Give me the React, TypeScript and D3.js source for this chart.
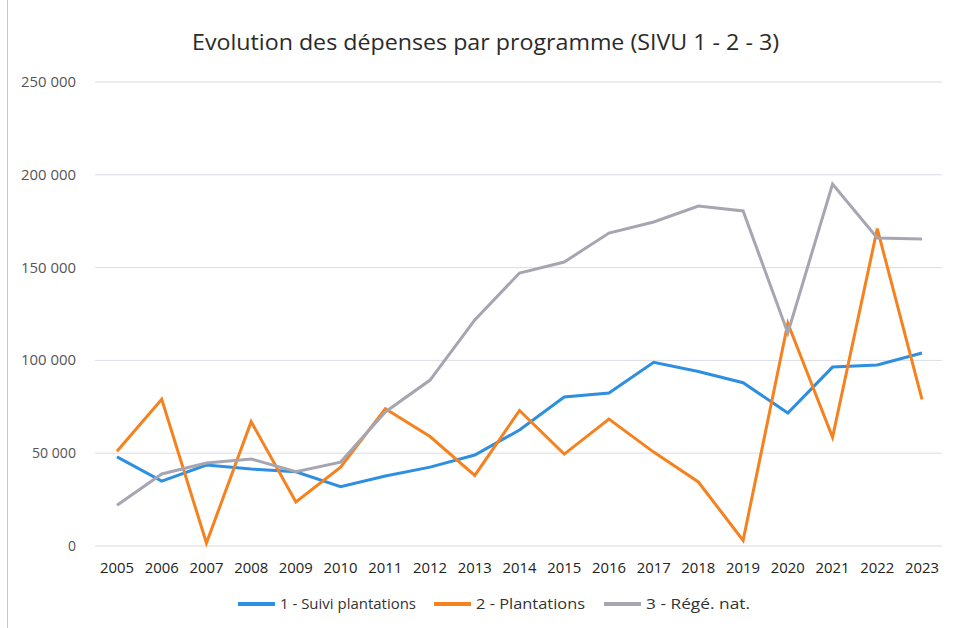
import React from "react";
import * as d3 from "d3";

const years = ["2005","2006","2007","2008","2009","2010","2011","2012","2013","2014","2015","2016","2017","2018","2019","2020","2021","2022","2023"];
const suiviPlantations = [48000,35000,43600,41500,40000,32000,37700,42500,49000,62500,80300,82400,99000,94000,88000,71600,96400,97500,104000];
const plantations = [51000,79000,1600,67000,23700,42500,74000,59000,38000,73000,49500,68400,50600,34500,3000,120000,58600,171000,79000];
const regeNat = [22000,38800,44700,46900,40000,45200,72200,89400,121800,147100,153000,168600,174600,183200,180500,114800,195000,166000,165400];
const yTicks = [0,50000,100000,150000,200000,250000];
const seriesNames = ["1 - Suivi plantations","2 - Plantations","3 - Régé. nat."];
const seriesColors = ["#2e8fe0","#f5821f","#a6a6b2"];

const W = 955, H = 628;
const font = "'Open Sans', sans-serif";

export default function App() {
  const x = d3.scalePoint<string>().domain(years).range([117, 922]);
  const y = d3.scaleLinear().domain([0, 250000]).range([546, 82]);
  const fmt = d3.formatLocale({ decimal: ",", thousands: " ", grouping: [3], currency: ["", "€"] }).format(",d");
  const line = d3.line<number>().x((_, i) => x(years[i]) as number).y(d => y(d));
  const data = [suiviPlantations, plantations, regeNat];
  const legendX = [238, 434, 604];
  const legendTextW = [136, 109, 104];

  return (
    <svg width={W} height={H} style={{ position: "absolute", left: 0, top: 0, background: "#fff" }}>
      <rect x={0} y={0} width={W} height={H} fill="#fff" />
      <line x1={7.5} x2={7.5} y1={0} y2={H} stroke="#c8c8c8" strokeWidth={1} />
      <text x={192} y={50} textLength={587} lengthAdjust="spacingAndGlyphs" fontFamily={font} fontSize={21} fill="#2a2a2a">
        Evolution des dépenses par programme (SIVU 1 - 2 - 3)
      </text>
      {yTicks.map(t => {
        const s = fmt(t);
        const tl = s.length >= 7 ? 55 : s.length === 6 ? 44 : undefined;
        return (
          <g key={t}>
            <line x1={95} x2={942} y1={y(t)} y2={y(t)} stroke="#dcdce4" strokeWidth={1} />
            <text x={76} y={y(t) + 5} textAnchor="end" fontFamily={font} fontSize={14} fill="#555" textLength={tl} lengthAdjust="spacingAndGlyphs">{s}</text>
          </g>
        );
      })}
      {years.map(yr => (
        <text key={yr} x={x(yr)} y={573} textAnchor="middle" fontFamily={font} fontSize={14} fill="#222" textLength={34} lengthAdjust="spacingAndGlyphs">{yr}</text>
      ))}
      {data.map((d, i) => (
        <path key={i} d={line(d) || ""} fill="none" stroke={seriesColors[i]} strokeWidth={3} strokeLinejoin="miter" />
      ))}
      {seriesNames.map((n, i) => (
        <g key={n}>
          <line x1={legendX[i]} x2={legendX[i] + 37} y1={604} y2={604} stroke={seriesColors[i]} strokeWidth={4} />
          <text x={legendX[i] + 42} y={609} fontFamily={font} fontSize={14} fill="#333" textLength={legendTextW[i]} lengthAdjust="spacingAndGlyphs">{n}</text>
        </g>
      ))}
    </svg>
  );
}
